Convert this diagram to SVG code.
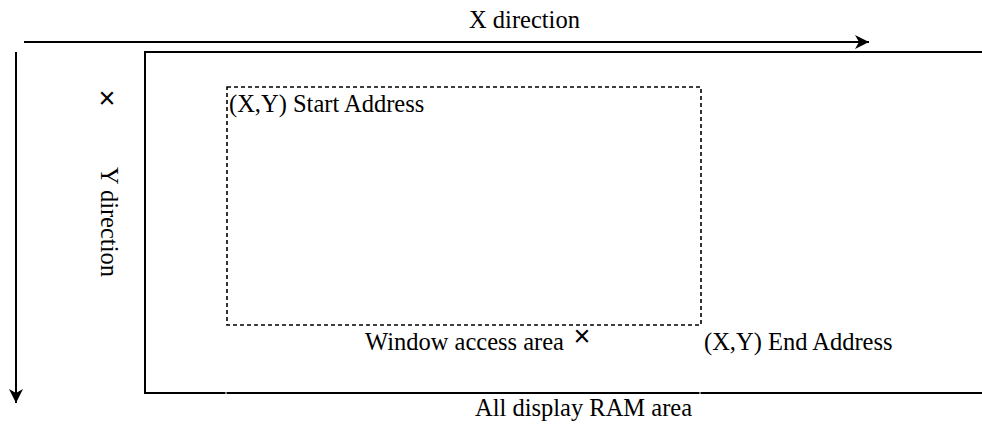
<svg xmlns="http://www.w3.org/2000/svg" width="982" height="429" viewBox="0 0 982 429">
  <style>
    .lbl { font-family: "Liberation Serif", "Times New Roman", serif; font-size: 24.5px; fill: #000; }
    .mark { font-family: "Liberation Sans", Arial, sans-serif; font-size: 29px; fill: #000; text-anchor: middle; }
    .edge { stroke: #000; stroke-width: 2; fill: none; }
    .win { stroke: #000; stroke-width: 1.6; fill: none; stroke-dasharray: 4 3; }
  </style>
  <defs>
    <marker id="arrow" markerUnits="userSpaceOnUse" markerWidth="16" markerHeight="16" refX="14" refY="7" orient="auto">
      <path d="M0,0 L14,7 L0,14 L4,7 Z" fill="#000"/>
    </marker>
  </defs>

  <rect width="982" height="429" fill="#fff"/>

  <!-- axis arrows -->
  <g id="connectors">
    <line class="edge" x1="24" y1="42" x2="869" y2="42" marker-end="url(#arrow)"/>
    <line class="edge" x1="16" y1="52" x2="16" y2="403" marker-end="url(#arrow)"/>
  </g>

  <!-- whole display RAM, open to the right -->
  <g id="ram-area">
    <path class="edge" d="M982,52 H145 V393"/>
    <path class="edge" d="M144,393 H225.5 M226.5,393 H699.5 M700.5,393 H982"/>
    <text class="lbl" x="475" y="416">All display RAM area</text>
  </g>

  <!-- window access region -->
  <g id="window-area">
    <rect class="win" x="227" y="87" width="474" height="238"/>
    <text class="lbl" x="229" y="112">(X,Y) Start Address</text>
    <text class="lbl" x="365" y="350">Window access area</text>
    <text class="mark" x="582" y="346">×</text>
    <text class="lbl" x="704" y="350">(X,Y) End Address</text>
  </g>

  <!-- axis labels -->
  <g id="x-axis-label">
    <text class="lbl" x="469" y="28">X direction</text>
  </g>
  <g id="y-axis-label">
    <text class="mark" x="107" y="108">×</text>
    <text class="lbl" transform="translate(101,167) rotate(90)">Y direction</text>
  </g>
</svg>
